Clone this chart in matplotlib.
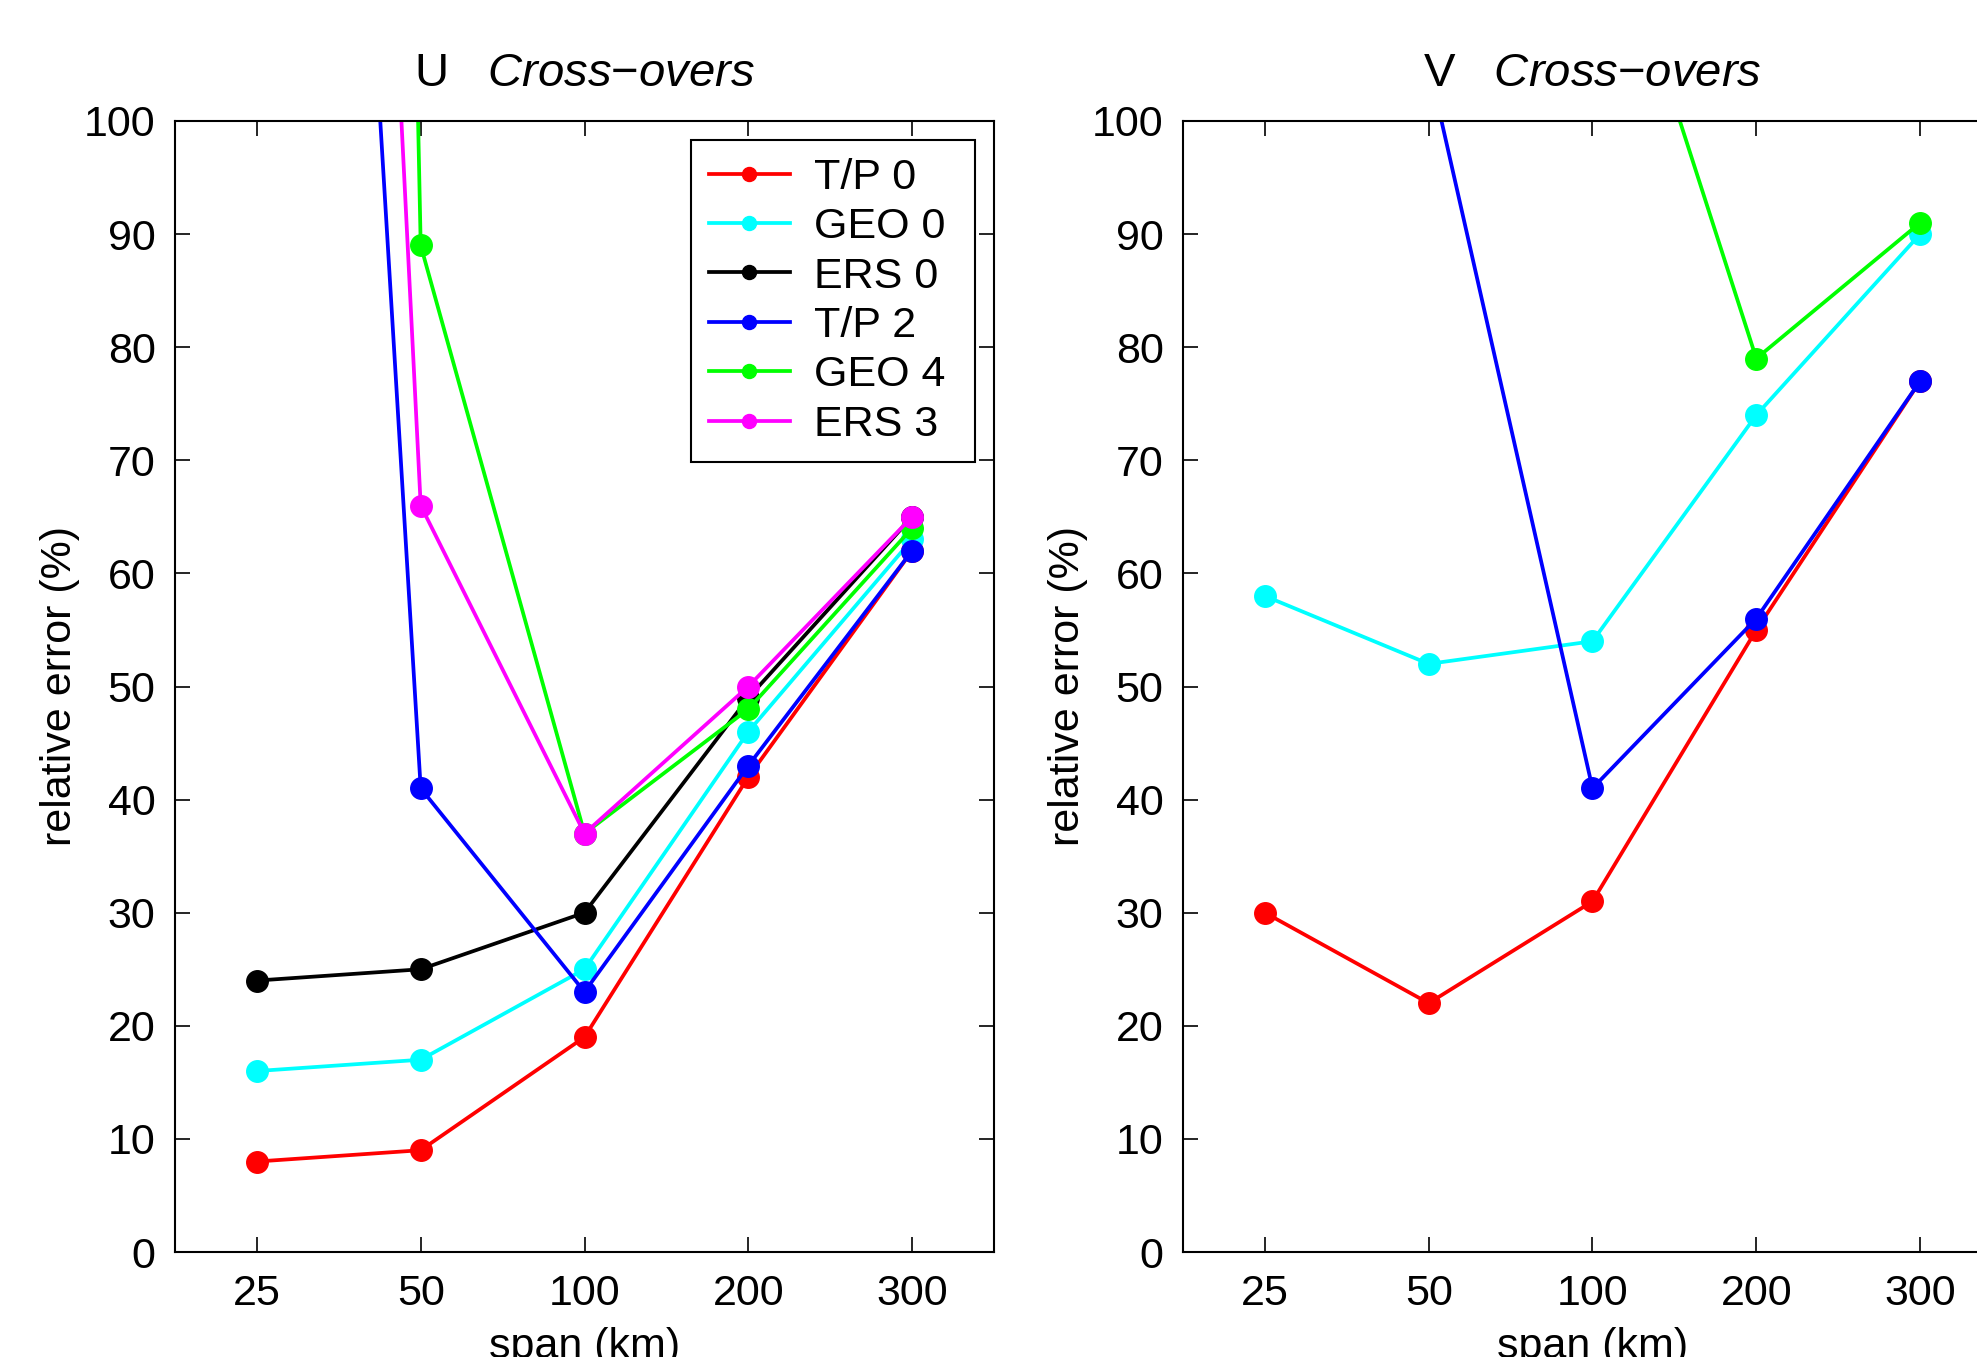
import numpy as np
import matplotlib
matplotlib.use("Agg")
import matplotlib.pyplot as plt

plt.rcParams['font.family'] = ['Liberation Sans', 'DejaVu Sans']
plt.rcParams['mathtext.fontset'] = 'custom'
plt.rcParams['mathtext.rm'] = 'Liberation Sans'
plt.rcParams['mathtext.it'] = 'Liberation Sans:italic'

spans = ['25', '50', '100', '200', '300']
nan = np.nan

# U cross-overs
u_tp0 = [8, 9, 19, 42, 62]
u_geo0 = [16, 17, 25, 46, 63]
u_ers0 = [24, 25, 30, 49, 65]
u_tp2 = [280, 41, 23, 43, 62]
u_geo4 = [780, 89, 37, 48, 64]
u_ers3 = [355, 66, 37, 50, 65]

# V cross-overs
v_tp0 = [30, 22, 31, 55, 77]
v_geo0 = [58, 52, 54, 74, 90]
v_tp2 = [nan, 105, 41, 56, 77]
v_geo4 = [nan, nan, 124, 79, 91]

labels = ['T/P 0', 'GEO 0', 'ERS 0', 'T/P 2', 'GEO 4', 'ERS 3']
colors = ['#ff0000', '#00ffff', '#000000', '#0000ff', '#00ff00', '#ff00ff']

FS = 31
TFS = 34
LW = 2.7
MS = 15.5

fig = plt.figure(figsize=(19.77, 13.57), dpi=100)
ax1 = fig.add_axes([175/1977, 105/1357, 819/1977, 1131/1357])
ax2 = fig.add_axes([1183/1977, 105/1357, 819/1977, 1131/1357])

x = np.arange(1, len(spans) + 1)

u_series = [u_tp0, u_geo0, u_ers0, u_tp2, u_geo4, u_ers3]
lines = []
for s, c, l in zip(u_series, colors, labels):
    ln, = ax1.plot(x, s, '-o', color=c, lw=LW, ms=MS, label=l + ' ')
    lines.append(ln)

v_series = [v_tp0, v_geo0, v_tp2, v_geo4]
v_colors = [colors[0], colors[1], colors[3], colors[4]]
for s, c in zip(v_series, v_colors):
    ax2.plot(x, s, '-o', color=c, lw=LW, ms=MS)

titles = [r'U   $\mathit{Cross{-}overs}$', r'V   $\mathit{Cross{-}overs}$']
for ax, t in zip([ax1, ax2], titles):
    ax.set_xlim(0.5, 5.5)
    ax.set_ylim(0, 100)
    ax.set_xticks(x)
    ax.set_xticklabels(spans)
    ax.set_yticks(np.arange(0, 101, 10))
    ax.tick_params(direction='in', length=11, width=1.2, top=True, right=True,
                   labelsize=FS, pad=14)
    ax.tick_params(axis='x', pad=16)
    for sp in ax.spines.values():
        sp.set_linewidth(1.5)
    ax.set_xlabel('span (km)', fontsize=FS, labelpad=9)
    ax.set_ylabel('relative error (%)', fontsize=FS, labelpad=3)
    ax.set_title(t, fontsize=TFS, pad=25)

leg = ax1.legend(handles=lines, loc='upper right', fontsize=FS, frameon=True,
                 fancybox=False, edgecolor='black', framealpha=1,
                 handlelength=1.9, handletextpad=0.55, labelspacing=0.22,
                 borderpad=0.4, borderaxespad=0.45, markerscale=0.65)
leg.get_frame().set_linewidth(1.5)

fig.savefig('out.png', dpi=100)
